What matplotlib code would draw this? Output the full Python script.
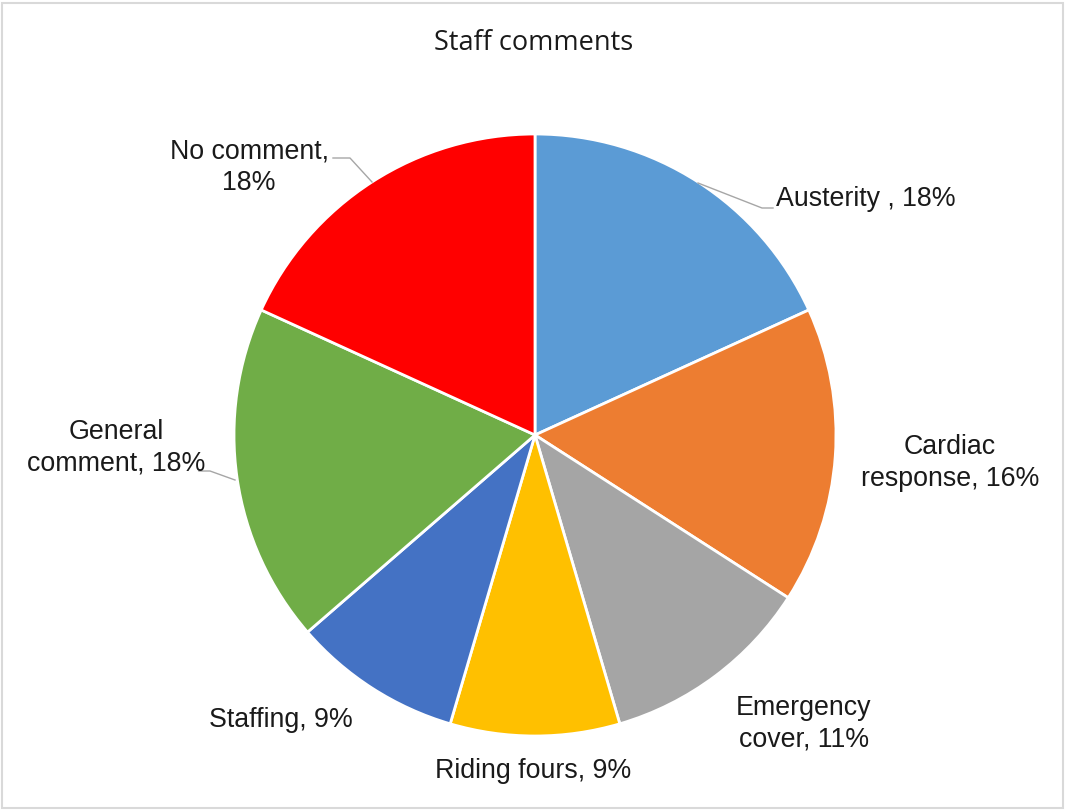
import matplotlib

matplotlib.use("Agg")
import matplotlib.pyplot as plt
from matplotlib.patches import Rectangle

W, H = 1067, 810

# responses per comment category (clockwise from 12 o'clock)
categories = ["Austerity ", "Cardiac response", "Emergency cover", "Riding fours",
              "Staffing", "General comment", "No comment"]
counts = [8, 7, 5, 4, 4, 8, 8]
colours = ["#5B9BD5", "#ED7D31", "#A5A5A5", "#FFC000", "#4472C4", "#70AD47", "#FF0000"]

# label layout in pixel coords (y down): text format, anchor x, anchor y, ha, leader line
LABELS = [
    ("{name}, {pct}", 776, 199, "left", [(698, 183), (762, 208), (773, 208)]),
    ("Cardiac\nresponse, {pct}", 950, 463, "center", None),
    ("Emergency\ncover, {pct}", 804, 724, "center", None),
    ("{name}, {pct}", 533, 771, "center", None),
    ("{name}, {pct}", 281, 720, "center", None),
    ("General\ncomment, {pct}", 116, 448, "center", [(199, 471), (210, 471), (235, 480)]),
    ("{name},\n{pct}", 249, 167, "center", [(333, 158), (350, 158), (372, 182)]),
]
CENTER, RADIUS = (535, 435), 301
FONT = ["Liberation Sans", "DejaVu Sans"]


def fy(y):
    return H - y


def main():
    fig = plt.figure(figsize=(W / 100, H / 100), dpi=100, facecolor="white")
    ax = fig.add_axes([0, 0, 1, 1])

    ax.pie(counts, colors=colours, startangle=90, counterclock=False,
           center=(CENTER[0], fy(CENTER[1])), radius=RADIUS,
           wedgeprops=dict(edgecolor="white", linewidth=2))
    # pie() resets the limits, so pin the pixel frame afterwards
    ax.set_xlim(0, W)
    ax.set_ylim(0, H)
    ax.set_aspect("equal")
    ax.axis("off")

    total = sum(counts)
    for name, n, (fmt, x, y, ha, leader) in zip(categories, counts, LABELS):
        pct = f"{round(100 * n / total)}%"
        ax.text(x, fy(y), fmt.format(name=name, pct=pct), ha=ha, va="center",
                multialignment="center", fontsize=19.3, family=FONT,
                color="#1A1A1A", linespacing=1.28)
        if leader:
            ax.plot([p[0] for p in leader], [fy(p[1]) for p in leader],
                    color="#A6A6A6", lw=1)

    ax.text(534, fy(43), "Staff comments", ha="center", va="center",
            fontsize=19.5, family=["Open Sans", "DejaVu Sans"], color="#1A1A1A")

    ax.add_patch(Rectangle((2, fy(808)), 1061, 805, fill=False,
                           edgecolor="#D9D9D9", lw=1.5))
    fig.savefig("out.png", dpi=100, facecolor="white")
    plt.close(fig)


if __name__ == "__main__":
    main()
